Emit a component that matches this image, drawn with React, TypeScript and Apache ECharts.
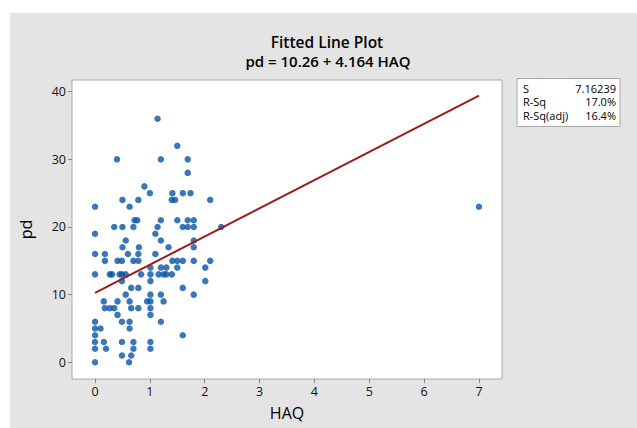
import React, { useEffect, useRef } from "react";
import * as echarts from "echarts";

// Observed data (HAQ, pd)
const haq = [
  0, 0, 0, 0, 0, 0, 0, 0, 0, 0,
  0.1, 0.18, 0.18, 0.16, 0.18, 0.16, 0.2,
  0.27, 0.27, 0.31, 0.35, 0.35,
  0.4, 0.41, 0.41, 0.41, 0.45,
  0.5, 0.5, 0.5, 0.49, 0.49, 0.49, 0.49, 0.49, 0.49,
  0.56, 0.56, 0.56, 0.6,
  0.63, 0.63, 0.63, 0.63, 0.62,
  0.66, 0.66, 0.66,
  0.72, 0.7, 0.7, 0.7, 0.7, 0.77,
  0.79, 0.8, 0.79, 0.79, 0.84, 0.79, 0.79,
  0.9, 0.95,
  1.0, 1.01, 1.01, 1.01, 1.01, 1.01, 1.01, 1.01, 1.01, 1.01,
  1.1, 1.1, 1.14, 1.14, 1.16,
  1.2, 1.2, 1.2, 1.2, 1.2, 1.2,
  1.25, 1.25, 1.3, 1.3, 1.34,
  1.41, 1.4, 1.41, 1.4, 1.46,
  1.5, 1.5, 1.5, 1.5,
  1.6, 1.6, 1.6, 1.6, 1.6,
  1.69, 1.69, 1.69, 1.69, 1.74,
  1.8, 1.8, 1.8, 1.8, 1.8, 1.8,
  2.01, 2.01, 2.1, 2.1, 2.3,
  7,
];
const pd = [
  23, 19, 16, 13, 6, 5, 4, 3, 2, 0,
  5, 16, 15, 9, 8, 3, 2,
  13, 8, 13, 20, 8,
  30, 15, 9, 7, 13,
  24, 20, 17, 15, 13, 12, 6, 3, 1,
  18, 13, 10, 16,
  23, 9, 6, 5, 0,
  11, 8, 1,
  21, 20, 15, 3, 2, 21,
  24, 17, 16, 15, 13, 11, 8,
  26, 9,
  25, 14, 13, 12, 10, 9, 8, 7, 3, 2,
  19, 16, 36, 20, 13,
  30, 21, 18, 14, 10, 6,
  13, 9, 14, 13, 17,
  25, 24, 15, 13, 24,
  32, 21, 15, 14,
  25, 20, 15, 11, 4,
  30, 28, 21, 20, 25,
  21, 20, 18, 17, 15, 10,
  14, 12, 24, 15, 20,
  23,
];

// Fitted line: pd = 10.26 + 4.164 HAQ, drawn over HAQ 0..7
const fitX = [0, 7];
const fitY = [10.26, 39.41];

const xTicks = [0, 1, 2, 3, 4, 5, 6, 7];
const yTicks = [0, 10, 20, 30, 40];

const statNames = ["S", "R-Sq", "R-Sq(adj)"];
const statValues = ["7.16239", "17.0%", "16.4%"];

const FONT = "'Open Sans', 'Noto Sans', sans-serif";

export default function App() {
  const ref = useRef<HTMLDivElement>(null);

  useEffect(() => {
    if (!ref.current) return;
    const chart = echarts.init(ref.current, undefined, { renderer: "svg" });

    const statTexts: any[] = [];
    statNames.forEach((n, i) => {
      statTexts.push({
        type: "text",
        x: 523,
        y: 88 + i * 13.5,
        style: { text: n, font: `500 11px ${FONT}`, fill: "#000", textVerticalAlign: "middle", textAlign: "left" },
      });
      statTexts.push({
        type: "text",
        x: 616,
        y: 88 + i * 13.5,
        style: { text: statValues[i], font: `500 11px ${FONT}`, fill: "#000", textVerticalAlign: "middle", textAlign: "right" },
      });
    });

    chart.setOption({
      animation: false,
      backgroundColor: "#ffffff",
      graphic: [
        {
          type: "rect",
          z: -10,
          silent: true,
          shape: { x: 10, y: 13, width: 640, height: 420 },
          style: { fill: "#e4e4e4" },
        },
        {
          type: "text",
          x: 327,
          y: 42,
          style: { text: "Fitted Line Plot", font: `600 15.5px ${FONT}`, fill: "#000", textAlign: "center", textVerticalAlign: "middle" },
        },
        {
          type: "text",
          x: 328,
          y: 61,
          style: { text: "pd = 10.26 + 4.164 HAQ", font: `600 15px ${FONT}`, fill: "#000", textAlign: "center", textVerticalAlign: "middle" },
        },
        {
          type: "rect",
          shape: { x: 517, y: 78.5, width: 103, height: 48 },
          style: { fill: "#ffffff", stroke: "#a8a8a8", lineWidth: 1 },
        },
        ...statTexts,
      ],
      grid: {
        left: 72,
        top: 80,
        right: 135,
        bottom: 49,
        show: true,
        backgroundColor: "#ffffff",
        borderColor: "#a8a8a8",
        borderWidth: 1,
      },
      xAxis: {
        type: "value",
        min: -0.42,
        max: 7.42,
        name: "HAQ",
        nameLocation: "middle",
        nameGap: 26,
        nameTextStyle: { fontFamily: FONT, fontSize: 16, fontWeight: 500, color: "#000" },
        axisLine: { show: false, onZero: false },
        splitLine: { show: false },
        axisTick: { show: true, inside: false, customValues: xTicks, length: 4, lineStyle: { color: "#888" } },
        axisLabel: { customValues: xTicks, fontFamily: FONT, fontSize: 12.5, color: "#111", margin: 6 },
      },
      yAxis: {
        type: "value",
        min: -2.47,
        max: 41.73,
        name: "pd",
        nameLocation: "middle",
        nameGap: 38,
        nameTextStyle: { fontFamily: FONT, fontSize: 16, fontWeight: 500, color: "#000" },
        axisLine: { show: false, onZero: false },
        splitLine: { show: false },
        axisTick: { show: true, inside: false, customValues: yTicks, length: 4, lineStyle: { color: "#888" } },
        axisLabel: { customValues: yTicks, fontFamily: FONT, fontSize: 12.5, color: "#111", margin: 6 },
      },
      series: [
        {
          type: "scatter",
          symbol: "circle",
          symbolSize: 6.5,
          itemStyle: { color: "#0755a6" },
          data: haq.map((x, i) => [x, pd[i]]),
          z: 2,
        },
        {
          type: "line",
          showSymbol: false,
          symbol: "none",
          lineStyle: { color: "#9c1b1b", width: 2 },
          data: fitX.map((x, i) => [x, fitY[i]]),
          z: 3,
        },
      ],
    });

    return () => chart.dispose();
  }, []);

  return (
    <div
      ref={ref}
      style={{ position: "fixed", left: 0, top: 0, width: 637, height: 428 }}
    />
  );
}
